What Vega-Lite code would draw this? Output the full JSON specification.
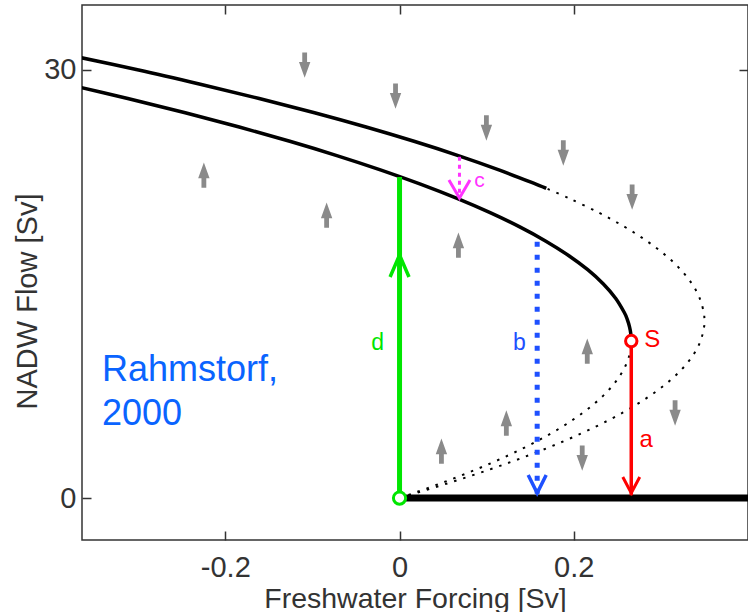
{
  "$schema": "https://vega.github.io/schema/vega-lite/v6.json",
  "width": 666,
  "height": 535,
  "autosize": {"type": "none"},
  "padding": {"left": 82, "top": 5, "right": 0, "bottom": 72},
  "background": "white",
  "config": {
    "view": {"stroke": "#333333", "strokeWidth": 1.5},
    "font": "Liberation Sans"
  },
  "datasets": {
    "lower": [
      {"x": 0.266, "y": 11.0}, {"x": 0.2655, "y": 11.5}, {"x": 0.264, "y": 12}, {"x": 0.2615, "y": 12.5},
      {"x": 0.258, "y": 13}, {"x": 0.248, "y": 14}, {"x": 0.234, "y": 15}, {"x": 0.216, "y": 16},
      {"x": 0.194, "y": 17}, {"x": 0.168, "y": 18}, {"x": 0.138, "y": 19}, {"x": 0.104, "y": 20},
      {"x": 0.066, "y": 21}, {"x": 0.024, "y": 22}, {"x": -0.022, "y": 23}, {"x": -0.072, "y": 24},
      {"x": -0.126, "y": 25}, {"x": -0.184, "y": 26}, {"x": -0.246, "y": 27}, {"x": -0.312, "y": 28},
      {"x": -0.382, "y": 29}
    ],
    "upper": [
      {"x": 0.1684, "y": 21.7}, {"x": 0.1565, "y": 22}, {"x": 0.114, "y": 23}, {"x": 0.0674, "y": 24},
      {"x": 0.0166, "y": 25}, {"x": -0.0384, "y": 26}, {"x": -0.0976, "y": 27}, {"x": -0.1611, "y": 28},
      {"x": -0.2287, "y": 29}, {"x": -0.2995, "y": 30}, {"x": -0.3765, "y": 31}, {"x": -0.416, "y": 31.5}
    ],
    "outerDot": [
      {"x": 0, "y": 0}, {"x": 0.0537, "y": 1}, {"x": 0.1034, "y": 2}, {"x": 0.1485, "y": 3},
      {"x": 0.1891, "y": 4}, {"x": 0.2251, "y": 5}, {"x": 0.2566, "y": 6}, {"x": 0.2835, "y": 7},
      {"x": 0.3059, "y": 8}, {"x": 0.3236, "y": 9}, {"x": 0.3369, "y": 10}, {"x": 0.3455, "y": 11},
      {"x": 0.3496, "y": 12}, {"x": 0.35, "y": 12.4}, {"x": 0.3492, "y": 13}, {"x": 0.3446, "y": 14},
      {"x": 0.3358, "y": 15}, {"x": 0.3228, "y": 16}, {"x": 0.3056, "y": 17}, {"x": 0.2841, "y": 18},
      {"x": 0.2585, "y": 19}, {"x": 0.2287, "y": 20}, {"x": 0.1947, "y": 21}, {"x": 0.1684, "y": 21.7}
    ],
    "innerDot": [
      {"x": 0, "y": 0}, {"x": 0.046, "y": 1}, {"x": 0.0878, "y": 2}, {"x": 0.1252, "y": 3},
      {"x": 0.1582, "y": 4}, {"x": 0.1868, "y": 5}, {"x": 0.211, "y": 6}, {"x": 0.2308, "y": 7},
      {"x": 0.2462, "y": 8}, {"x": 0.2572, "y": 9}, {"x": 0.2638, "y": 10}, {"x": 0.266, "y": 11}
    ],
    "offState": [{"x": 0, "y": 0}, {"x": 0.42, "y": 0}],
    "flowArrows": [
      {"x": -0.1089, "y": 30.34, "dir": "down"}, {"x": -0.0046, "y": 28.17, "dir": "down"},
      {"x": 0.0997, "y": 25.93, "dir": "down"}, {"x": 0.188, "y": 24.18, "dir": "down"},
      {"x": 0.267, "y": 21.09, "dir": "down"}, {"x": 0.3163, "y": 5.96, "dir": "down"},
      {"x": 0.2097, "y": 2.8, "dir": "down"},
      {"x": -0.2246, "y": 22.63, "dir": "up"}, {"x": -0.0837, "y": 19.83, "dir": "up"},
      {"x": 0.0676, "y": 17.73, "dir": "up"}, {"x": 0.2155, "y": 10.3, "dir": "up"},
      {"x": 0.1226, "y": 5.26, "dir": "up"}, {"x": 0.0481, "y": 3.29, "dir": "up"}
    ]
  },
  "layer": [
    {
      "encoding": {
        "x": {
          "field": "x", "type": "quantitative",
          "scale": {"domain": [-0.3645, 0.4], "nice": false, "zero": false},
          "axis": {
            "values": [-0.2, 0, 0.2],
            "labelExpr": "datum.value < 0 ? '-' + format(-datum.value, '.1f') : (datum.value == 0 ? '0' : format(datum.value, '.1f'))",
            "grid": false, "domain": false,
            "tickSize": -9, "tickColor": "#333333", "tickWidth": 1.5,
            "labelFontSize": 29, "labelColor": "#333333", "labelPadding": 22,
            "title": "Freshwater Forcing [Sv]", "titleFontSize": 28.5, "titleFontWeight": "normal",
            "titleColor": "#333333", "titleY": 67, "titleBaseline": "alphabetic"
          }
        },
        "y": {
          "field": "y", "type": "quantitative",
          "scale": {"domain": [-2.94, 34.55], "nice": false, "zero": false},
          "axis": {
            "values": [0, 30],
            "grid": false, "domain": false,
            "tickSize": -9, "tickColor": "#333333", "tickWidth": 1.5,
            "labelFontSize": 29, "labelColor": "#333333", "labelPadding": 15,
            "title": "NADW Flow [Sv]", "titleFontSize": 29, "titleFontWeight": "normal",
            "titleColor": "#333333", "titleX": -46, "titleY": 296, "titleBaseline": "alphabetic", "titleAlign": "center", "titleAnchor": "middle"
          }
        }
      },
      "layer": [
        {
          "data": {"name": "flowArrows"},
          "mark": {"type": "point", "filled": true, "size": 640, "opacity": 1},
          "encoding": {
            "shape": {
              "field": "dir", "type": "nominal", "legend": null,
              "scale": {
                "domain": ["up", "down"],
                "range": [
                  "M-0.19,1 L0.19,1 L0.19,0.25 L0.45,0.25 L0,-1 L-0.45,0.25 L-0.19,0.25 Z",
                  "M-0.19,-1 L0.19,-1 L0.19,-0.25 L0.45,-0.25 L0,1 L-0.45,-0.25 L-0.19,-0.25 Z"
                ]
              }
            },
            "color": {"value": "#8a8a8a"}
          }
        },
        {
          "data": {"name": "lower"},
          "mark": {"type": "line", "color": "black", "strokeWidth": 3.5, "clip": true, "interpolate": "cardinal"},
          "encoding": {"order": {"field": "y"}}
        },
        {
          "data": {"name": "upper"},
          "mark": {"type": "line", "color": "black", "strokeWidth": 3.5, "clip": true, "interpolate": "cardinal"},
          "encoding": {"order": {"field": "y"}}
        },
        {
          "data": {"name": "outerDot"},
          "mark": {"type": "line", "color": "black", "strokeWidth": 2, "strokeDash": [2.5, 7], "clip": true, "interpolate": "cardinal"},
          "encoding": {"order": {"field": "y"}}
        },
        {
          "data": {"name": "innerDot"},
          "mark": {"type": "line", "color": "black", "strokeWidth": 2, "strokeDash": [2.5, 7], "clip": true, "interpolate": "cardinal"},
          "encoding": {"order": {"field": "y"}}
        },
        {
          "data": {"name": "offState"},
          "mark": {"type": "line", "color": "black", "strokeWidth": 7, "clip": true},
          "encoding": {}
        },
        {
          "data": {"values": [{"x": 0, "y": 0, "y2": 22.5}]},
          "mark": {"type": "rule", "color": "#00e600", "strokeWidth": 5},
          "encoding": {"y2": {"field": "y2"}}
        },
        {
          "data": {"values": [{"x": 0.158, "y": 0.3, "y2": 18.3}]},
          "mark": {"type": "rule", "color": "#1e50ff", "strokeWidth": 5, "strokeDash": [5, 8]},
          "encoding": {"y2": {"field": "y2"}}
        },
        {
          "data": {"values": [{"x": 0.266, "y": 0.2, "y2": 10.6}]},
          "mark": {"type": "rule", "color": "#ff0000", "strokeWidth": 3.5},
          "encoding": {"y2": {"field": "y2"}}
        },
        {
          "data": {"values": [{"x": 0.0688, "y": 21.4, "y2": 24.0}]},
          "mark": {"type": "rule", "color": "#ff33ff", "strokeWidth": 3, "strokeDash": [4, 4]},
          "encoding": {"y2": {"field": "y2"}}
        },
        {
          "data": {"values": [{"x": 0, "y": 16.26}]},
          "mark": {"type": "point", "shape": "M-0.86,1 L0,-1 L0.86,1", "filled": false, "size": 484, "stroke": "#00e600", "strokeWidth": 3.5, "opacity": 1}
        },
        {
          "data": {"values": [{"x": 0.158, "y": 0.98}]},
          "mark": {"type": "point", "shape": "M-1,-1 L0,1 L1,-1", "filled": false, "size": 324, "stroke": "#1e50ff", "strokeWidth": 3.5, "opacity": 1}
        },
        {
          "data": {"values": [{"x": 0.266, "y": 0.91}]},
          "mark": {"type": "point", "shape": "M-1.06,-1 L0,1 L1.06,-1", "filled": false, "size": 256, "stroke": "#ff0000", "strokeWidth": 3, "opacity": 1}
        },
        {
          "data": {"values": [{"x": 0.0688, "y": 21.65}]},
          "mark": {"type": "point", "shape": "M-1.17,-1 L0,1 L1.17,-1", "filled": false, "size": 324, "stroke": "#ff33ff", "strokeWidth": 3, "opacity": 1}
        },
        {
          "data": {"values": [{"x": 0, "y": 0}]},
          "mark": {"type": "point", "shape": "circle", "filled": true, "fill": "white", "size": 150, "stroke": "#00e600", "strokeWidth": 3, "opacity": 1}
        },
        {
          "data": {"values": [{"x": 0.266, "y": 11.0}]},
          "mark": {"type": "point", "shape": "circle", "filled": true, "fill": "white", "size": 130, "stroke": "#ff0000", "strokeWidth": 3, "opacity": 1}
        },
        {
          "data": {"values": [{"x": -0.0252, "y": 10.86, "label": "d"}]},
          "mark": {"type": "text", "color": "#00e600", "fontSize": 23, "align": "center", "baseline": "middle"},
          "encoding": {"text": {"field": "label"}}
        },
        {
          "data": {"values": [{"x": 0.1375, "y": 10.86, "label": "b"}]},
          "mark": {"type": "text", "color": "#1e50ff", "fontSize": 23, "align": "center", "baseline": "middle"},
          "encoding": {"text": {"field": "label"}}
        },
        {
          "data": {"values": [{"x": 0.283, "y": 4.06, "label": "a"}, {"x": 0.29, "y": 11.07, "label": "S"}]},
          "mark": {"type": "text", "color": "#ff0000", "fontSize": 24, "align": "center", "baseline": "middle"},
          "encoding": {"text": {"field": "label"}}
        },
        {
          "data": {"values": [{"x": 0.0917, "y": 22.2, "label": "c"}]},
          "mark": {"type": "text", "color": "#ff33ff", "fontSize": 21, "align": "center", "baseline": "middle"},
          "encoding": {"text": {"field": "label"}}
        },
        {
          "data": {"values": [{"x": -0.3415, "y": 8.2, "label": ["Rahmstorf,", "2000"]}]},
          "mark": {"type": "text", "color": "#0a64ff", "fontSize": 36, "align": "left", "baseline": "alphabetic", "lineHeight": 44},
          "encoding": {"text": {"field": "label"}}
        }
      ]
    },
    {
      "data": {"values": [{"x": 0, "y": 0}]},
      "mark": {"type": "point", "opacity": 0},
      "encoding": {
        "x": {
          "field": "x", "type": "quantitative",
          "scale": {"domain": [-0.3645, 0.4], "nice": false, "zero": false},
          "axis": {"orient": "top", "values": [-0.2, 0, 0.2], "labels": false, "title": null, "grid": false, "domain": false,
                   "tickSize": -9, "tickColor": "#333333", "tickWidth": 1.5}
        },
        "y": {
          "field": "y", "type": "quantitative",
          "scale": {"domain": [-2.94, 34.55], "nice": false, "zero": false},
          "axis": {"orient": "right", "values": [0, 30], "labels": false, "title": null, "grid": false, "domain": false,
                   "tickSize": -9, "tickColor": "#333333", "tickWidth": 1.5}
        }
      }
    }
  ],
  "resolve": {"axis": {"x": "independent", "y": "independent"}}
}
